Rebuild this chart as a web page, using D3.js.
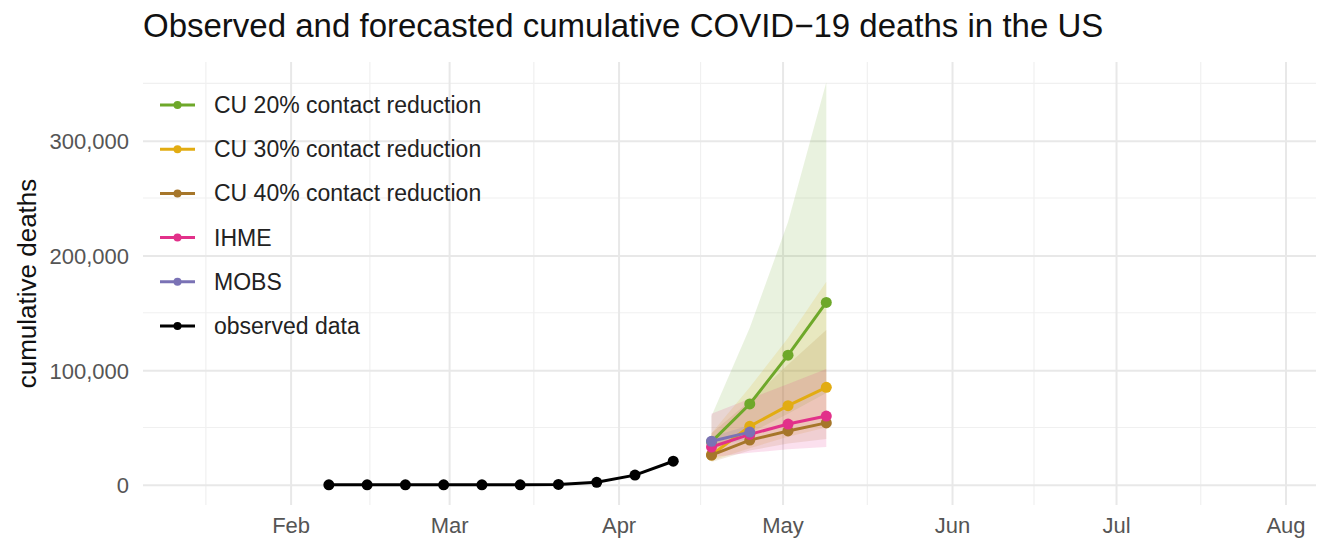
<!DOCTYPE html>
<html>
<head>
<meta charset="utf-8">
<script src="https://cdn.jsdelivr.net/npm/d3@7"></script>
<style>
  body { margin: 0; background: #fff; }
  text { font-family: "Liberation Sans", Arial, sans-serif; }
</style>
</head>
<body>
<script>
// observed weekly cumulative deaths
var obsDates = ["2020-02-08", "2020-02-15", "2020-02-22", "2020-02-29", "2020-03-07",
                "2020-03-14", "2020-03-21", "2020-03-28", "2020-04-04", "2020-04-11"];
var obsDeaths = [0, 0, 0, 1, 17, 57, 390, 2200, 8500, 20600];

// forecasts
var fcDates = ["2020-04-18", "2020-04-25", "2020-05-02", "2020-05-09"];
var cu20 = [37500, 70500, 113000, 159000];
var cu20Lo = [30000, 45000, 62000, 80000];
var cu20Hi = [60000, 137000, 229000, 351000];
var cu30 = [26000, 51000, 69000, 85000];
var cu30Lo = [21000, 32000, 42000, 50000];
var cu30Hi = [45000, 85000, 128000, 177000];
var cu40 = [26000, 39000, 47000, 54000];
var cu40Lo = [20000, 30000, 36000, 40000];
var cu40Hi = [45000, 73000, 105000, 135000];
var ihme = [33000, 44000, 53000, 60000];
var ihmeLo = [24000, 28000, 31000, 33000];
var ihmeHi = [62000, 75000, 88000, 101000];
var mobs = [38000, 46000];
var mobsLo = [33000, 40000];
var mobsHi = [42000, 52000];

var seriesNames = ["CU 20% contact reduction", "CU 30% contact reduction", "CU 40% contact reduction",
                   "IHME", "MOBS", "observed data"];
var seriesColors = ["#6EA82A", "#E2AC12", "#A6762A", "#E2318A", "#7A72B5", "#000000"];

var monthTicks = ["2020-02-01", "2020-03-01", "2020-04-01", "2020-05-01", "2020-06-01", "2020-07-01", "2020-08-01"];
var monthLabels = ["Feb", "Mar", "Apr", "May", "Jun", "Jul", "Aug"];
var yTicks = [0, 100000, 200000, 300000];
var yMinor = [50000, 150000, 250000, 350000];

var svgWidth = 1326;
var svgHeight = 540;
var panel = {left: 143, right: 1316, top: 62, bottom: 505};

var parse = d3.utcParse("%Y-%m-%d");

var forecasts = [
    {mid: cu20, lo: cu20Lo, hi: cu20Hi},
    {mid: cu30, lo: cu30Lo, hi: cu30Hi},
    {mid: cu40, lo: cu40Lo, hi: cu40Hi},
    {mid: ihme, lo: ihmeLo, hi: ihmeHi},
    {mid: mobs, lo: mobsLo, hi: mobsHi}
];
forecasts.forEach(function(f, i) {
    f.name = seriesNames[i];
    f.color = seriesColors[i];
    f.rows = f.mid.map(function(v, j) {
        return {date: parse(fcDates[j]), y: v, lo: f.lo[j], hi: f.hi[j]};
    });
});
var observed = obsDates.map(function(d, i) { return {date: parse(d), y: obsDeaths[i]}; });

var svg = d3.select("body").append("svg")
    .attr("width", svgWidth)
    .attr("height", svgHeight);

var xScale = d3.scaleUtc()
    .domain([new Date(Date.UTC(2020, 0, 5)), new Date(Date.UTC(2020, 7, 6, 14))])
    .range([panel.left, panel.right]);

var yMax = d3.max(forecasts, function(f) { return d3.max(f.hi); });
var yScale = d3.scaleLinear()
    .domain([-0.05 * yMax, yMax * 1.05])
    .range([panel.bottom, panel.top]);

// grid
var months = d3.utcMonth.range(new Date(Date.UTC(2020, 0, 1)), new Date(Date.UTC(2020, 8, 1)));
var xMinor = [];
for (var i = 0; i < months.length - 1; i++) {
    var mid = new Date((months[i].getTime() + months[i + 1].getTime()) / 2);
    if (mid >= xScale.domain()[0] && mid <= xScale.domain()[1]) xMinor.push(mid);
}
var grid = svg.append("g");
grid.selectAll(".ym").data(yMinor).enter().append("line")
    .attr("x1", panel.left).attr("x2", panel.right)
    .attr("y1", function(d) { return yScale(d); }).attr("y2", function(d) { return yScale(d); })
    .attr("stroke", "#f0f0f0").attr("stroke-width", 1.2);
grid.selectAll(".xm").data(xMinor).enter().append("line")
    .attr("y1", panel.top).attr("y2", panel.bottom)
    .attr("x1", function(d) { return xScale(d); }).attr("x2", function(d) { return xScale(d); })
    .attr("stroke", "#f0f0f0").attr("stroke-width", 1.2);

var yAxis = d3.axisLeft(yScale)
    .tickValues(yTicks)
    .tickSize(-(panel.right - panel.left))
    .tickPadding(14)
    .tickFormat(d3.format(","));
svg.append("g")
    .attr("transform", "translate(" + panel.left + ",0)")
    .call(yAxis)
    .call(function(g) {
        g.select(".domain").remove();
        g.selectAll("line").attr("stroke", "#e8e8e8").attr("stroke-width", 2);
        g.selectAll("text").attr("font-size", 22).attr("fill", "#555").attr("dy", "0.36em");
    });

var xAxis = d3.axisBottom(xScale)
    .tickValues(monthTicks.map(parse))
    .tickSize(-(panel.bottom - panel.top))
    .tickPadding(12)
    .tickFormat(function(d, i) { return monthLabels[i]; });
svg.append("g")
    .attr("transform", "translate(0," + panel.bottom + ")")
    .call(xAxis)
    .call(function(g) {
        g.select(".domain").remove();
        g.selectAll("line").attr("stroke", "#e8e8e8").attr("stroke-width", 2);
        g.selectAll("text").attr("font-size", 22).attr("fill", "#555");
    });

// ribbons
var area = d3.area()
    .x(function(d) { return xScale(d.date); })
    .y0(function(d) { return yScale(d.lo); })
    .y1(function(d) { return yScale(d.hi); });
svg.append("g").selectAll("path").data(forecasts).enter().append("path")
    .attr("d", function(f) { return area(f.rows); })
    .attr("fill", function(f) { return f.color; })
    .attr("fill-opacity", 0.15);

var line = d3.line()
    .x(function(d) { return xScale(d.date); })
    .y(function(d) { return yScale(d.y); });

forecasts.forEach(function(f) {
    var g = svg.append("g");
    g.append("path")
        .attr("d", line(f.rows))
        .attr("fill", "none")
        .attr("stroke", f.color)
        .attr("stroke-width", 3);
    g.selectAll("circle").data(f.rows).enter().append("circle")
        .attr("cx", function(d) { return xScale(d.date); })
        .attr("cy", function(d) { return yScale(d.y); })
        .attr("r", 5.5)
        .attr("fill", f.color);
});

// observed
var og = svg.append("g");
og.append("path")
    .attr("d", line(observed))
    .attr("fill", "none")
    .attr("stroke", "#000")
    .attr("stroke-width", 3);
og.selectAll("circle").data(observed).enter().append("circle")
    .attr("cx", function(d) { return xScale(d.date); })
    .attr("cy", function(d) { return yScale(d.y); })
    .attr("r", 5.5)
    .attr("fill", "#000");

// legend
var legend = svg.append("g").attr("transform", "translate(160,105)");
var rows = legend.selectAll("g").data(seriesNames).enter().append("g")
    .attr("transform", function(d, i) { return "translate(0," + (i * 44.2) + ")"; });
rows.append("line")
    .attr("x1", 0).attr("x2", 35)
    .attr("stroke", function(d, i) { return seriesColors[i]; })
    .attr("stroke-width", 3);
rows.append("circle")
    .attr("cx", 17.5).attr("r", 4)
    .attr("fill", function(d, i) { return seriesColors[i]; });
rows.append("text")
    .attr("x", 54)
    .attr("dy", "0.35em")
    .attr("font-size", 23)
    .attr("fill", "#222")
    .text(function(d) { return d; });

// titles
svg.append("text")
    .attr("x", panel.left)
    .attr("y", 37)
    .attr("font-size", 33)
    .attr("fill", "#111")
    .text("Observed and forecasted cumulative COVID\u221219 deaths in the US");

svg.append("text")
    .attr("transform", "translate(36," + ((panel.top + panel.bottom) / 2) + ") rotate(-90)")
    .attr("text-anchor", "middle")
    .attr("font-size", 26)
    .attr("fill", "#111")
    .text("cumulative deaths");
</script>
</body>
</html>
